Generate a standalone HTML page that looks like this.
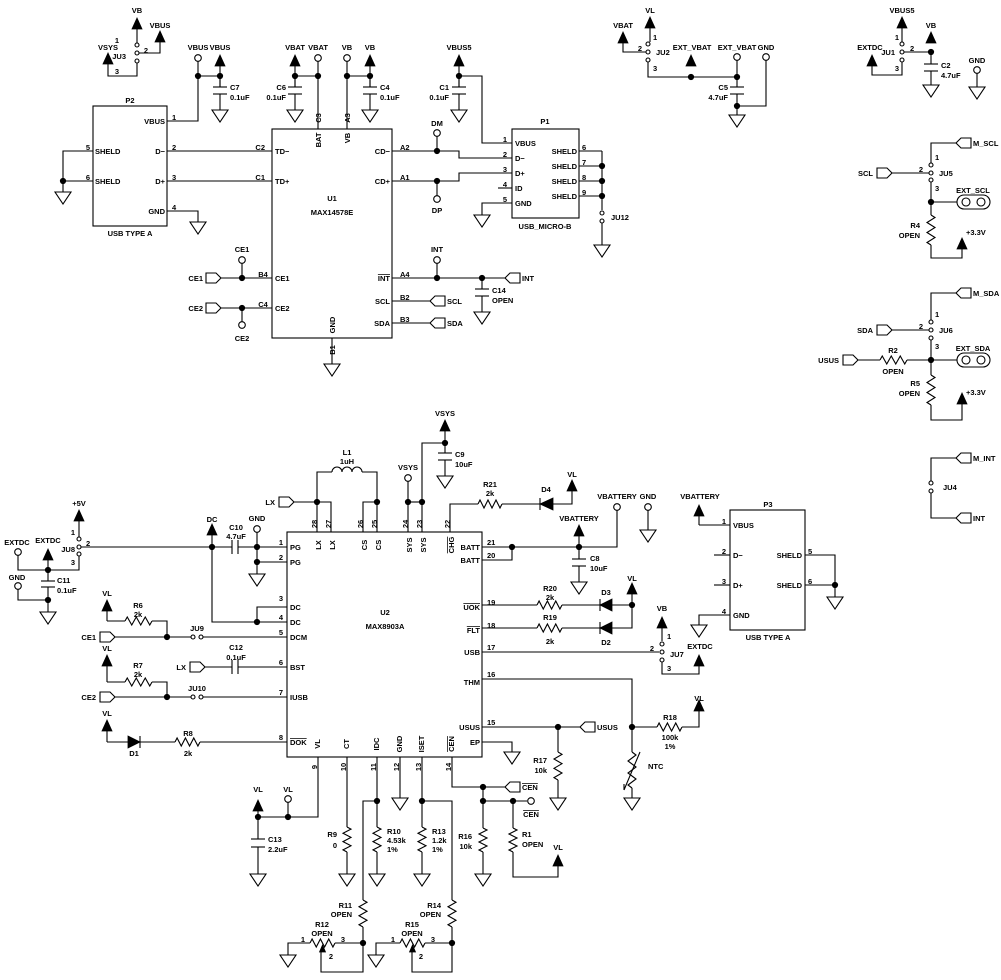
<!DOCTYPE html>
<html><head><meta charset="utf-8">
<style>
html,body{margin:0;padding:0;background:#fff;}
svg{display:block;}
polyline,line,rect.o,path{fill:none;stroke:#000;stroke-width:1.1;}
.o{fill:#fff;stroke:#000;stroke-width:1.1;}
.f{fill:#000;stroke:#000;stroke-width:0.8;}
text{font-family:"Liberation Sans",sans-serif;font-size:7.5px;font-weight:bold;fill:#000;}
</style></head><body>
<svg id="s" width="1001" height="980" viewBox="0 0 1001 980" xmlns="http://www.w3.org/2000/svg"></svg>
<script>
const s=[];
function L(...p){s.push(`<polyline points="${p.join(',')}"/>`)}
function D(x,y){s.push(`<circle cx="${x}" cy="${y}" r="2.7" class="f"/>`)}
function O(x,y,r){r=r||3.3;s.push(`<circle cx="${x}" cy="${y}" r="${r}" class="o"/>`)}
function J(x,y){O(x,y,2)}
function G(x,y){s.push(`<polygon class="o" points="${x-8},${y} ${x+8},${y} ${x},${y+12}"/>`)}
function A(x,y,y2){s.push(`<polygon class="f" points="${x},${y} ${x-5},${y+11} ${x+5},${y+11}"/>`);if(y2)L(x,y+11,x,y2)}
function CV(x,ya,y1,y2,yb){L(x,ya,x,y1);L(x-7,y1,x+7,y1);L(x-7,y2,x+7,y2);L(x,y2,x,yb)}
function CH(xa,x1,x2,xb,y){L(xa,y,x1,y);L(x1,y-7,x1,y+7);L(x2,y-7,x2,y+7);L(x2,y,xb,y)}
function RV(x,y1,y2){let n=6,h=(y2-y1)/n,p=[x,y1];for(let i=0;i<n;i++){p.push(x+(i%2?-4:4),y1+h*(i+0.5))}p.push(x,y2);L(...p)}
function RH(x1,x2,y){let n=6,h=(x2-x1)/n,p=[x1,y];for(let i=0;i<n;i++){p.push(x1+h*(i+0.5),y+(i%2?4:-4))}p.push(x2,y);L(...p)}
function FR(x,y){s.push(`<polygon class="o" points="${x},${y-5} ${x+10},${y-5} ${x+15},${y} ${x+10},${y+5} ${x},${y+5}"/>`)}
function FL(x,y){s.push(`<polygon class="o" points="${x},${y} ${x+5},${y-5} ${x+15},${y-5} ${x+15},${y+5} ${x+5},${y+5}"/>`)}
function T(x,y,t,a,extra){s.push(`<text x="${x}" y="${y+3}" text-anchor="${a||'middle'}" ${extra||''}>${t}</text>`)}
function OV(x,y,t,a){T(x,y,t,a,'text-decoration="overline"')}
function TR(x,y,t,a,ov){s.push(`<text transform="translate(${x},${y}) rotate(-90)" x="0" y="3" text-anchor="${a||'middle'}" ${ov?'text-decoration="overline"':''}>${t}</text>`)}
function DL(x1,x2,y){s.push(`<polygon class="f" points="${x1},${y} ${x2},${y-6} ${x2},${y+6}"/>`);L(x1,y-6,x1,y+6)}
function DR(x1,x2,y){s.push(`<polygon class="f" points="${x2},${y} ${x1},${y-6} ${x1},${y+6}"/>`);L(x2,y-6,x2,y+6)}
function R(x,y,w,h){s.push(`<rect class="o" x="${x}" y="${y}" width="${w}" height="${h}"/>`)}
function POT(x1,x2,y){RH(x1,x2,y);let c=(x1+x2)/2;s.push(`<polygon class="f" points="${c},${y+2} ${c-3},${y+9} ${c+3},${y+9}"/>`)}
function OB(x,y){s.push(`<rect class="o" x="${x}" y="${y-7}" width="33" height="14" rx="7"/>`);O(x+9,y,4);O(x+24,y,4)}

T(137,10,'VB');A(137,18,43);J(137,45);J(137,53);J(137,61);
T(117,40,'1');T(146,50,'2');T(117,71,'3');T(126,56,'JU3','end');
L(139,53,160,53,160,42);A(160,31);T(160,25,'VBUS');
L(137,63,137,76,108,76,108,64);A(108,53);T(108,47,'VSYS');
T(198,47,'VBUS');T(220,47,'VBUS');O(198,58);A(220,55,87);
L(198,61,198,121,167,121);L(198,76,220,76);D(198,76);D(220,76);
CV(220,76,87,94,110);G(220,110);T(230,87,'C7','start');T(230,97,'0.1uF','start');
R(93,106,74,120);T(130,100,'P2');T(130,233,'USB  TYPE  A');
T(172,117,'1','start');T(165,121,'VBUS','end');
T(165,151,'D−','end');T(165,181,'D+','end');T(165,211,'GND','end');
T(172,147,'2','start');T(172,177,'3','start');T(172,207,'4','start');
T(95,151,'SHELD','start');T(95,181,'SHELD','start');T(88,147,'5');T(88,177,'6');
L(93,151,63,151,63,192);L(63,181,93,181);D(63,181);G(63,192);
L(167,211,198,211,198,222);G(198,222);
L(167,151,272,151);L(167,181,272,181);T(265,147,'C2','end');T(265,177,'C1','end');
R(272,129,120,209);T(332,198,'U1');T(332,212,'MAX14578E');
T(275,151,'TD−','start');T(275,181,'TD+','start');T(275,278,'CE1','start');T(275,308,'CE2','start');
T(390,151,'CD−','end');T(390,181,'CD+','end');OV(390,278,'INT','end');T(390,301,'SCL','end');T(390,323,'SDA','end');
TR(318,140,'BAT');TR(347,138,'VB');TR(318,118,'C3');TR(347,118,'A3');TR(332,325,'GND');TR(332,350,'B1');
T(295,47,'VBAT');T(318,47,'VBAT');A(295,55,87);O(318,58);L(318,61,318,129);L(295,76,318,76);D(295,76);D(318,76);
CV(295,76,87,94,110);G(295,110);T(286,87,'C6','end');T(286,97,'0.1uF','end');
T(347,47,'VB');T(370,47,'VB');O(347,58);L(347,61,347,129);A(370,55,87);L(347,76,370,76);D(347,76);D(370,76);
CV(370,76,87,94,110);G(370,110);T(380,87,'C4','start');T(380,97,'0.1uF','start');
L(332,338,332,364);G(332,364);
T(400,147,'A2','start');T(400,177,'A1','start');
L(392,151,459,151,459,158,512,158);L(392,181,459,181,459,173,512,173);
T(437,123,'DM');O(437,133);L(437,136,437,151);D(437,151);
T(437,210,'DP');O(437,199);L(437,196,437,181);D(437,181);
T(459,47,'VBUS5');A(459,55,87);D(459,76);L(459,76,482,76,482,143,512,143);
CV(459,76,87,94,110);G(459,110);T(449,87,'C1','end');T(449,97,'0.1uF','end');
R(512,129,67,89);T(545,121,'P1');T(545,226,'USB_MICRO-B');
T(515,143,'VBUS','start');T(515,158,'D−','start');T(515,173,'D+','start');T(515,188,'ID','start');T(515,203,'GND','start');
T(507,139,'1','end');T(507,154,'2','end');T(507,169,'3','end');T(507,184,'4','end');T(507,199,'5','end');
L(498,188,512,188);L(512,203,482,203,482,215);G(482,215);
[151,166,181,196].forEach((y,i)=>{T(577,y,'SHELD','end');T(582,y-4,''+(6+i),'start');L(579,y,602,y);if(i)D(602,y)});
L(602,151,602,210);J(602,213);J(602,221);L(602,223,602,245);G(602,245);T(611,217,'JU12','start');
T(242,249,'CE1');O(242,260);L(242,263,242,278);FR(206,278);T(203,278,'CE1','end');L(221,278,272,278);D(242,278);T(263,274,'B4');
FR(206,308);T(203,308,'CE2','end');L(221,308,272,308);D(242,308);L(242,308,242,322);O(242,325);T(242,338,'CE2');T(263,304,'C4');
T(400,274,'A4','start');T(400,297,'B2','start');T(400,319,'B3','start');
T(437,249,'INT');O(437,260);L(437,263,437,278);L(392,278,505,278);D(437,278);D(482,278);FL(505,278);T(522,278,'INT','start');
CV(482,278,289,296,312);G(482,312);T(492,290,'C14','start');T(492,300,'OPEN','start');
L(392,301,430,301);FL(430,301);T(447,301,'SCL','start');
L(392,323,430,323);FL(430,323);T(447,323,'SDA','start');

T(650,10,'VL');A(650,17,42);J(648,44);J(648,52);J(648,60);T(653,37,'1','start');T(640,48,'2');T(656,52,'JU2','start');T(653,68,'3','start');
T(623,25,'VBAT');A(623,32);L(623,43,623,52,646,52);
L(648,62,648,77,737,77);T(692,47,'EXT_VBAT');A(691,55);D(691,77);
T(737,47,'EXT_VBAT');O(737,57);L(737,60,737,77);D(737,77);
CV(737,77,87,94,115);D(737,106);L(737,106,766,106,766,60);G(737,115);T(728,87,'C5','end');T(728,97,'4.7uF','end');
T(766,47,'GND');O(766,57);
T(902,10,'VBUS5');A(902,17,42);J(902,44);J(902,52);J(902,60);T(899,37,'1','end');T(910,48,'2','start');T(895,52,'JU1','end');T(899,68,'3','end');
L(904,52,931,52);D(931,52);T(931,25,'VB');A(931,32);CV(931,52,64,71,85);G(931,85);T(941,65,'C2','start');T(941,75,'4.7uF','start');
T(870,47,'EXTDC');A(872,55);L(872,66,872,75,902,75,902,62);
T(977,60,'GND');O(977,70);L(977,73,977,87);G(977,87);
FL(956,143);T(973,143,'M_SCL','start');L(956,143,931,143,931,163);J(931,165);J(931,173);J(931,180);
T(935,157,'1','start');T(923,169,'2','end');T(939,173,'JU5','start');T(935,188,'3','start');
FR(877,173);T(873,173,'SCL','end');L(892,173,929,173);
L(931,182,931,215);D(931,202);L(931,202,957,202);OB(957,202);T(973,190,'EXT_SCL');
RV(931,215,245);T(920,225,'R4','end');T(920,235,'OPEN','end');L(931,245,931,258,962,258,962,249);A(962,238);T(966,232,'+3.3V','start');
FL(956,293);T(973,293,'M_SDA','start');L(956,293,931,293,931,320);J(931,322);J(931,330);J(931,338);
T(935,314,'1','start');T(923,326,'2','end');T(939,330,'JU6','start');T(935,346,'3','start');
FR(877,330);T(873,330,'SDA','end');L(892,330,929,330);
L(931,340,931,375);D(931,360);L(931,360,957,360);OB(957,360);T(973,348,'EXT_SDA');
FR(843,360);T(839,360,'USUS','end');L(858,360,880,360);RH(880,907,360);L(907,360,931,360);T(893,350,'R2');T(893,371,'OPEN');
RV(931,375,405);T(920,383,'R5','end');T(920,393,'OPEN','end');L(931,405,931,420,962,420,962,404);A(962,393);T(966,392,'+3.3V','start');
FL(956,458);T(973,458,'M_INT','start');L(956,458,931,458,931,481);J(931,483);J(931,491);T(943,487,'JU4','start');
L(931,493,931,518,956,518);FL(956,518);T(973,518,'INT','start');

R(287,532,195,225);T(385,612,'U2');T(385,626,'MAX8903A');
[[317,'28','LX'],[331,'27','LX'],[363,'26','CS'],[377,'25','CS'],[408,'24','SYS'],[422,'23','SYS'],[450,'22','CHG']].forEach(p=>{TR(p[0]-3,524,p[1]);TR(p[0]+1,545,p[2],'middle',p[2]=='CHG');});
L(317,532,317,472,332,472);L(331,532,331,502,317,502);L(363,532,363,502,377,502);L(377,532,377,472,362,472);
s.push('<path d="M332,472 a5,5 0 0 1 10,0 a5,5 0 0 1 10,0 a5,5 0 0 1 10,0"/>');
T(347,452,'L1');T(347,461,'1uH');
FR(279,502);T(275,502,'LX','end');L(294,502,317,502);D(317,502);D(377,502);
T(408,467,'VSYS');O(408,478);L(408,481,408,532);L(408,502,422,502);D(408,502);D(422,502);
L(422,532,422,443,445,443);D(445,443);T(445,413,'VSYS');A(445,420,443);CV(445,443,453,460,476);G(445,476);T(455,454,'C9','start');T(455,464,'10uF','start');
L(450,532,450,504,478,504);RH(478,502,504);L(502,504,540,504);DL(540,553,504);L(553,504,572,504,572,491);A(572,480);T(572,474,'VL');
T(490,484,'R21');T(490,493,'2k');T(546,489,'D4');
T(480,547,'BATT','end');T(480,560,'BATT','end');OV(480,607,'UOK','end');OV(480,630,'FLT','end');T(480,652,'USB','end');T(480,682,'THM','end');T(480,727,'USUS','end');T(480,742,'EP','end');
[[547,'21'],[560,'20'],[607,'19'],[630,'18'],[652,'17'],[679,'16'],[727,'15']].forEach(p=>T(487,p[0]-5,p[1],'start'));
L(482,547,617,547,617,510);L(482,560,512,560,512,547);D(512,547);
T(617,496,'VBATTERY');O(617,507);T(648,496,'GND');O(648,507);L(648,510,648,530);G(648,530);
T(579,518,'VBATTERY');A(579,525,547);D(579,547);CV(579,547,559,566,582);G(579,582);T(590,558,'C8','start');T(590,568,'10uF','start');
L(482,605,537,605);RH(537,562,605);L(562,605,600,605);DL(600,612,605);L(612,605,632,605);T(550,588,'R20');T(550,597,'2k');T(606,592,'D3');
L(482,628,537,628);RH(537,562,628);L(562,628,600,628);DL(600,612,628);L(612,628,632,628,632,594);D(632,605);A(632,583);T(632,578,'VL');T(550,617,'R19');T(550,641,'2k');T(606,642,'D2');
L(482,652,659,652);J(662,644);J(662,652);J(662,660);T(662,608,'VB');A(662,617,641);T(667,636,'1','start');T(654,648,'2','end');T(670,654,'JU7','start');T(667,668,'3','start');
L(662,662,662,674,699,674,699,666);A(699,655);T(700,646,'EXTDC');
L(482,679,632,679,632,750);D(632,727);
L(482,727,580,727);D(558,727);FL(580,727);T(597,727,'USUS','start');
L(632,727,657,727);RH(657,682,727);L(682,727,699,727,699,711);A(699,700);T(699,698,'VL');T(670,717,'R18');T(670,737,'100k');T(670,746,'1%');
RV(632,752,788);s.push('<line x1="624" y1="790" x2="640" y2="752"/><line x1="624" y1="790" x2="624" y2="784"/>');L(632,750,632,752);L(632,788,632,798);G(632,798);T(648,766,'NTC','start');
L(482,742,512,742,512,752);G(512,752);
L(558,727,558,752);RV(558,752,780);L(558,780,558,798);G(558,798);T(547,760,'R17','end');T(547,770,'10k','end');
T(290,547,'PG','start');T(290,562,'PG','start');T(290,607,'DC','start');T(290,622,'DC','start');T(290,637,'DCM','start');T(290,667,'BST','start');T(290,697,'IUSB','start');OV(290,742,'DOK','start');
[[547,'1'],[562,'2'],[603,'3'],[622,'4'],[637,'5'],[667,'6'],[697,'7'],[742,'8']].forEach(p=>T(283,p[0]-5,p[1],'end'));
T(79,503,'+5V');A(79,510,537);J(79,539);J(79,547);J(79,554);T(75,532,'1','end');T(86,543,'2','start');T(75,549,'JU8','end');T(75,562,'3','end');
L(81,547,232,547);CH(232,232,238,287,547);T(212,519,'DC');A(212,524,547);D(212,547);T(236,527,'C10');T(236,536,'4.7uF');
T(257,518,'GND');O(257,529);L(257,532,257,574);D(257,547);D(257,562);L(257,562,287,562);G(257,574);
L(212,547,212,622,287,622);D(257,622);L(257,622,257,607,287,607);
T(17,542,'EXTDC');T(48,540,'EXTDC');O(18,552);L(18,555,18,570,79,570,79,556);A(48,549,570);D(48,570);
CV(48,570,581,587,612);T(57,580,'C11','start');T(57,590,'0.1uF','start');
T(17,577,'GND');O(18,586);L(18,589,18,600,48,600);D(48,600);G(48,612);
T(107,593,'VL');A(107,600,621);L(107,621,125,621);RH(125,152,621);L(152,621,167,621,167,637);T(138,605,'R6');T(138,614,'2k');
FR(100,637);T(96,637,'CE1','end');L(115,637,191,637);D(167,637);J(193,637);J(201,637);T(197,628,'JU9');L(203,637,287,637);
FR(190,667);T(186,667,'LX','end');CH(205,232,238,287,667);T(236,647,'C12');T(236,657,'0.1uF');
T(107,648,'VL');A(107,655,682);L(107,682,125,682);RH(125,152,682);L(152,682,167,682,167,697);T(138,665,'R7');T(138,674,'2k');
FR(100,697);T(96,697,'CE2','end');L(115,697,191,697);D(167,697);J(193,697);J(201,697);T(197,688,'JU10');L(203,697,287,697);
T(107,713,'VL');A(107,720,742);L(107,742,128,742);DR(128,140,742);L(140,742,175,742);RH(175,200,742);L(200,742,287,742);T(134,753,'D1');T(188,733,'R8');T(188,753,'2k');
[[318,'9','VL'],[347,'10','CT'],[377,'11','IDC'],[400,'12','GND'],[422,'13','ISET'],[452,'14','CEN']].forEach(p=>{TR(p[0]-4,767,p[1]);TR(p[0]-1,744,p[2],'middle',p[2]=='CEN');});
L(318,757,318,817,258,817);D(288,817);D(258,817);O(288,799);L(288,802,288,817);T(288,789,'VL');T(258,789,'VL');A(258,800,817);
CV(258,817,839,847,874);G(258,874);T(268,839,'C13','start');T(268,849,'2.2uF','start');
L(347,757,347,827);RV(347,827,852);L(347,852,347,874);G(347,874);T(337,834,'R9','end');T(337,845,'0','end');
L(377,757,377,827);D(377,801);RV(377,827,852);L(377,852,377,874);G(377,874);T(387,831,'R10','start');T(387,840,'4.53k','start');T(387,849,'1%','start');
L(377,801,363,801,363,900);RV(363,900,927);L(363,927,363,972,321,972,321,951);D(363,943);T(352,905,'R11','end');T(352,914,'OPEN','end');
POT(310,335,943);L(335,943,363,943);L(310,943,288,943,288,955);G(288,955);T(322,924,'R12');T(322,933,'OPEN');T(303,939,'1');T(343,939,'3');T(331,956,'2');
L(400,757,400,798);G(400,798);
L(422,757,422,827);D(422,801);RV(422,827,852);L(422,852,422,874);G(422,874);T(432,831,'R13','start');T(432,840,'1.2k','start');T(432,849,'1%','start');
L(422,801,452,801,452,900);RV(452,900,927);L(452,927,452,972,412,972,412,951);D(452,943);T(441,905,'R14','end');T(441,914,'OPEN','end');
POT(400,425,943);L(425,943,452,943);L(400,943,376,943,376,955);G(376,955);T(412,924,'R15');T(412,933,'OPEN');T(393,939,'1');T(433,939,'3');T(421,956,'2');
L(452,757,452,787,505,787);D(483,787);FL(505,787);OV(522,787,'CEN','start');
L(483,787,483,828);D(483,801);L(483,801,527,801);D(513,801);O(531,801);OV(531,814,'CEN');
RV(483,828,852);L(483,852,483,874);G(483,874);T(472,836,'R16','end');T(472,846,'10k','end');
L(513,801,513,828);RV(513,828,852);L(513,852,513,877,558,877,558,866);A(558,855);T(558,847,'VL');T(522,834,'R1','start');T(522,844,'OPEN','start');
R(730,510,75,120);T(768,504,'P3');T(768,637,'USB  TYPE  A');
T(733,525,'VBUS','start');T(733,555,'D−','start');T(733,585,'D+','start');T(733,615,'GND','start');
T(726,521,'1','end');T(726,551,'2','end');T(726,581,'3','end');T(726,611,'4','end');
T(700,496,'VBATTERY');A(699,505,525);L(699,525,730,525);L(714,555,730,555);L(714,585,730,585);L(730,615,699,615,699,625);G(699,625);
T(802,555,'SHELD','end');T(802,585,'SHELD','end');T(808,551,'5','start');T(808,581,'6','start');
L(805,555,835,555,835,597);L(805,585,835,585);D(835,585);G(835,597);
document.getElementById('s').innerHTML=s.join('');
</script>
</body></html>
